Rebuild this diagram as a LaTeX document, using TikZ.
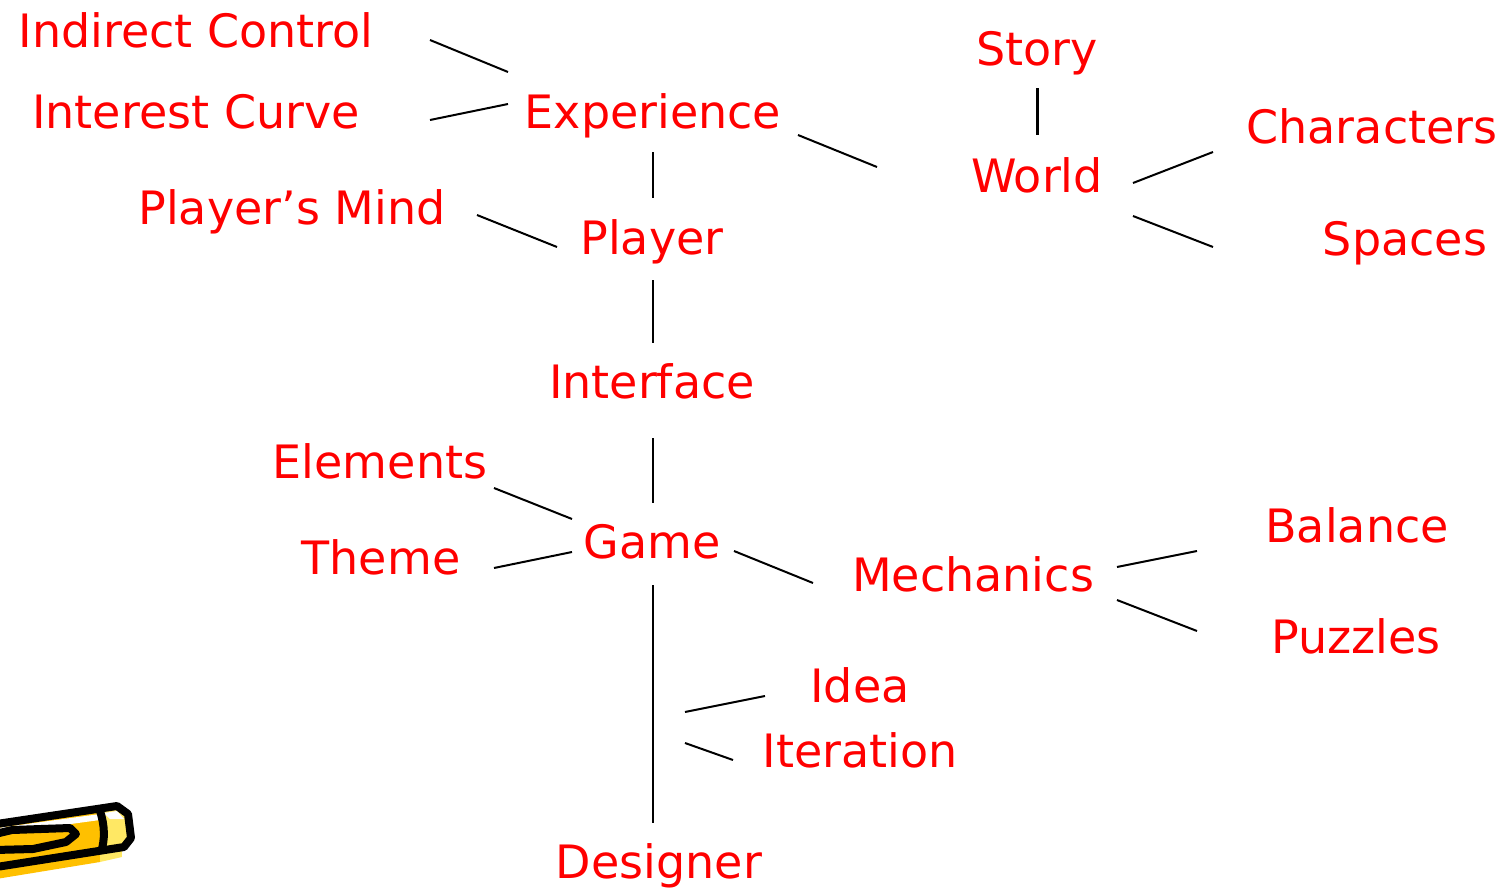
\documentclass[tikz,border=0pt]{standalone}
\usepackage{fontspec}
\setmainfont{DejaVu Sans}
\definecolor{labelred}{RGB}{255,0,0}
\definecolor{pencilorange}{RGB}{255,192,0}
\definecolor{pencilyellow}{RGB}{255,232,100}
\begin{document}
\begin{tikzpicture}[x=0.5pt,y=-0.5pt,
  term/.style={text=labelred, font=\fontsize{23}{28}\selectfont, anchor=base, inner sep=0pt},
  link/.style={draw=black, line width=1pt},
  outline/.style={draw=black, line width=4pt, line join=round}]
\useasboundingbox (0,0) rectangle (1506,894);

% concept labels
\node[term] (ic)   at (196,47)  {Indirect Control};
\node[term] (intc) at (196,128) {Interest Curve};
\node[term] (exp)  at (653,128) {Experience};
\node[term] (story) at (1037,65) {Story};
\node[term] (world) at (1037,192) {World};
\node[term] (chars) at (1372,143) {Characters};
\node[term] (spaces) at (1405,255) {Spaces};
\node[term] (pm)   at (292,224) {Player’s Mind};
\node[term] (player) at (652,254) {Player};
\node[term] (iface) at (652,398) {Interface};
\node[term] (elem) at (380,478) {Elements};
\node[term] (theme) at (381,574) {Theme};
\node[term] (game) at (652,558) {Game};
\node[term] (mech) at (973,591) {Mechanics};
\node[term] (bal)  at (1357,542) {Balance};
\node[term] (puz)  at (1356,653) {Puzzles};
\node[term] (idea) at (860,702) {Idea};
\node[term] (iter) at (860,767) {Iteration};
\node[term] (des)  at (659,878) {Designer};

% end points of the connecting strokes
\coordinate (a1) at (430,40);   \coordinate (a2) at (508,72);
\coordinate (b1) at (430,120);  \coordinate (b2) at (508,104);
\coordinate (c1) at (653,152);  \coordinate (c2) at (653,198);
\coordinate (d1) at (798,135);  \coordinate (d2) at (877,167);
\coordinate (e1) at (1037,88);  \coordinate (e2) at (1037,135);
\coordinate (f1) at (1133,183); \coordinate (f2) at (1213,152);
\coordinate (g1) at (1133,216); \coordinate (g2) at (1213,247);
\coordinate (h1) at (477,215);  \coordinate (h2) at (557,247);
\coordinate (i1) at (653,280);  \coordinate (i2) at (653,343);
\coordinate (j1) at (653,438);  \coordinate (j2) at (653,503);
\coordinate (k1) at (494,488);  \coordinate (k2) at (572,519);
\coordinate (l1) at (494,568);  \coordinate (l2) at (572,552);
\coordinate (m1) at (734,551);  \coordinate (m2) at (813,583);
\coordinate (n1) at (1117,567); \coordinate (n2) at (1197,551);
\coordinate (o1) at (1117,600); \coordinate (o2) at (1197,631);
\coordinate (p1) at (653,585);  \coordinate (p2) at (653,823);
\coordinate (q1) at (685,712);  \coordinate (q2) at (765,696);
\coordinate (r1) at (685,743);  \coordinate (r2) at (733,760);

\draw[link] (a1) -- (a2);
\draw[link] (b1) -- (b2);
\draw[link] (c1) -- (c2);
\draw[link] (d1) -- (d2);
\draw[link, line width=1.5pt] (e1) -- (e2);
\draw[link] (f1) -- (f2);
\draw[link] (g1) -- (g2);
\draw[link] (h1) -- (h2);
\draw[link] (i1) -- (i2);
\draw[link] (j1) -- (j2);
\draw[link] (k1) -- (k2);
\draw[link] (l1) -- (l2);
\draw[link] (m1) -- (m2);
\draw[link] (n1) -- (n2);
\draw[link] (o1) -- (o2);
\draw[link] (p1) -- (p2);
\draw[link] (q1) -- (q2);
\draw[link] (r1) -- (r2);

% pencil in the lower left corner
\begin{scope}
\clip (0,0) rectangle (1506,894);
% offset colour shadow
\fill[pencilorange] (-10,832) -- (100,815) -- (100,862) -- (-10,880) -- cycle;
\fill[pencilyellow] (100,815) -- (121,812) -- (122,857) -- (100,862) -- cycle;
% body and eraser fills
\fill[pencilorange] (-10,826) -- (100,810) -- (102,852) -- (-10,868) -- cycle;
\fill[pencilyellow] (100,810) -- (118,807) -- (127,816) -- (129,837) -- (123,845) -- (102,852) -- cycle;
\fill[white] (-10,829) -- (100,814) -- (100,820) -- (-10,835) -- cycle;
\fill[white] (104,813) -- (117,811) -- (124,819) -- (110,819) -- cycle;
% outline
\draw[outline] (-10,825) -- (117,806) -- (128,814) -- (131,838) -- (124,847) -- (-10,868);
% ferrule line
\draw[outline] (100,811) .. controls (105,826) and (105,840) .. (101,852);
% grip mark
\draw[outline, fill=pencilorange] (-5,834) -- (12,830) -- (70,828) -- (76,834) -- (66,842) -- (33,849) -- (-5,850);
\end{scope}
\end{tikzpicture}
\end{document}
